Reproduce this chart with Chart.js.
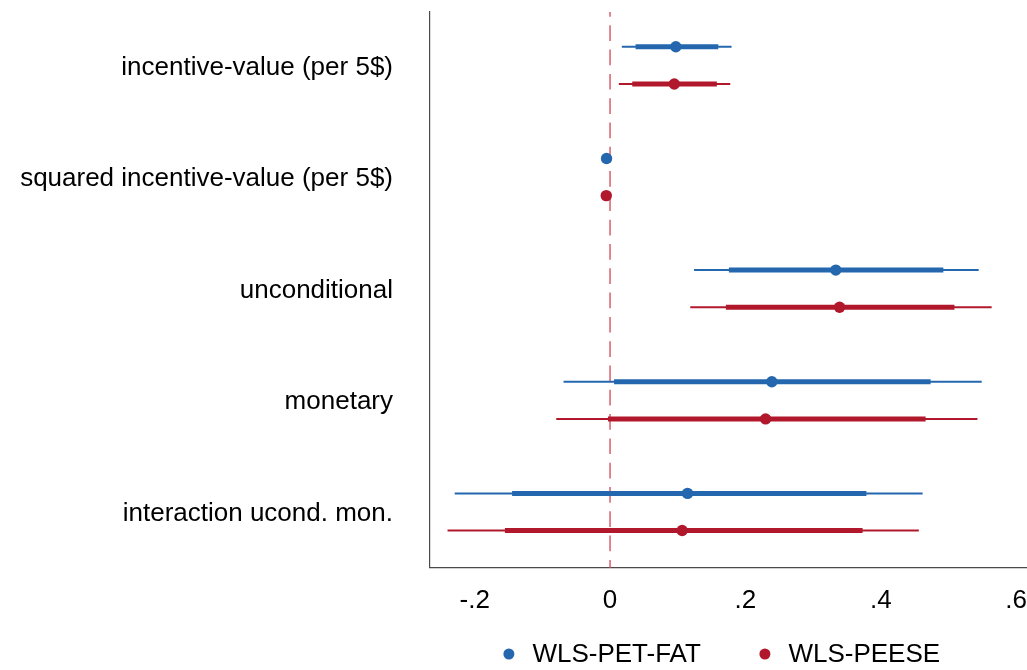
<!DOCTYPE html>
<html>
<head>
<meta charset="utf-8">
<script src="https://cdn.jsdelivr.net/npm/chart.js@4.4.1/dist/chart.umd.min.js"></script>
<style>
  html, body { margin: 0; padding: 0; background: #ffffff; }
  #wrap { width: 1027px; height: 670px; }
</style>
</head>
<body>
<div id="wrap"><canvas id="c" width="1027" height="670"></canvas></div>
<script>
// ---------------- data ----------------
const CATEGORIES = [
  'incentive-value (per 5$)',
  'squared incentive-value (per 5$)',
  'unconditional',
  'monetary',
  'interaction ucond. mon.'
];
const SERIES_NAMES = ['WLS-PET-FAT', 'WLS-PEESE'];

const PET_EST      = [0.0972, -0.0052, 0.3335, 0.2390, 0.1145];
const PET_CI95_LO  = [0.0174, -0.0062, 0.1241, -0.0687, -0.2295];
const PET_CI95_HI  = [0.1795, -0.0042, 0.5446, 0.5491, 0.4618];
const PET_CI90_LO  = [0.0377, -0.0058, 0.1756, 0.0059, -0.1447];
const PET_CI90_HI  = [0.1599, -0.0046, 0.4924, 0.4736, 0.3787];

const PEESE_EST     = [0.0949, -0.0056, 0.3391, 0.2298, 0.1065];
const PEESE_CI95_LO = [0.0130, -0.0066, 0.1185, -0.0795, -0.2401];
const PEESE_CI95_HI = [0.1776, -0.0046, 0.5638, 0.5428, 0.4562];
const PEESE_CI90_LO = [0.0328, -0.0062, 0.1711, -0.0031, -0.1553];
const PEESE_CI90_HI = [0.1578, -0.0050, 0.5088, 0.4662, 0.3731];

const X_TICKS       = [-0.2, 0, 0.2, 0.4, 0.6];
const X_TICK_LABELS = ['-.2', '0', '.2', '.4', '.6'];
const REF_VALUE = 0;

// ---------------- styling ----------------
const BLUE = '#2467af';
const RED  = '#b1182c';
const FONT = '"Liberation Sans", Arial, Helvetica, sans-serif';
const FONT_SIZE = 26;
const AXIS_COLOR = '#4a4a4a';
const SERIES_OFFSET = 0.1665;   // vertical separation of the two series within a category

function rows(lo, hi, off) {
  return CATEGORIES.map((c, i) => ({ y: i + off, x: [lo[i], hi[i]] }));
}
function pts(est, off) {
  return CATEGORIES.map((c, i) => ({ y: i + off, x: est[i] }));
}

const datasets = [
  { type: 'scatter', label: SERIES_NAMES[0], data: pts(PET_EST, -SERIES_OFFSET),
    backgroundColor: BLUE, borderColor: BLUE, pointRadius: 5.7, pointBorderWidth: 0, order: 0, isLegend: true },
  { type: 'scatter', label: SERIES_NAMES[1], data: pts(PEESE_EST, SERIES_OFFSET),
    backgroundColor: RED, borderColor: RED, pointRadius: 5.7, pointBorderWidth: 0, order: 0, isLegend: true },
  { type: 'bar', indexAxis: 'y', label: 'pet90', data: rows(PET_CI90_LO, PET_CI90_HI, -SERIES_OFFSET),
    backgroundColor: BLUE, barThickness: 5, grouped: false, borderWidth: 0, inflateAmount: 0, order: 1 },
  { type: 'bar', indexAxis: 'y', label: 'peese90', data: rows(PEESE_CI90_LO, PEESE_CI90_HI, SERIES_OFFSET),
    backgroundColor: RED, barThickness: 5, grouped: false, borderWidth: 0, inflateAmount: 0, order: 1 },
  { type: 'bar', indexAxis: 'y', label: 'pet95', data: rows(PET_CI95_LO, PET_CI95_HI, -SERIES_OFFSET),
    backgroundColor: BLUE, barThickness: 2, grouped: false, borderWidth: 0, inflateAmount: 0, order: 2 },
  { type: 'bar', indexAxis: 'y', label: 'peese95', data: rows(PEESE_CI95_LO, PEESE_CI95_HI, SERIES_OFFSET),
    backgroundColor: RED, barThickness: 2, grouped: false, borderWidth: 0, inflateAmount: 0, order: 2 }
];

// dashed reference line at REF_VALUE
const refLine = {
  id: 'refLine',
  beforeDatasetsDraw(chart) {
    const { ctx, chartArea } = chart;
    const x = chart.scales.x.getPixelForValue(REF_VALUE);
    ctx.save();
    ctx.strokeStyle = '#d6606f';
    ctx.lineWidth = 1.5;
    ctx.setLineDash([15.7, 8.6]);
    ctx.lineDashOffset = 11;
    ctx.beginPath();
    ctx.moveTo(x, chartArea.top);
    ctx.lineTo(x, chartArea.bottom);
    ctx.stroke();
    ctx.restore();
  }
};

// legend drawn below the axis
const bottomLegend = {
  id: 'bottomLegend',
  afterDraw(chart) {
    const { ctx, chartArea } = chart;
    const items = chart.data.datasets.filter(d => d.isLegend);
    ctx.save();
    ctx.font = FONT_SIZE + 'px ' + FONT;
    const dotToText = 23.5, itemGap = 64;
    const widths = items.map(d => ctx.measureText(d.label).width);
    let total = 0;
    widths.forEach((w, i) => { total += dotToText + w + (i < widths.length - 1 ? itemGap : 0); });
    let x = (chartArea.left + chartArea.right) / 2 - 4 - total / 2;
    const y = chart.height - 15;
    items.forEach((d, i) => {
      ctx.fillStyle = d.backgroundColor;
      ctx.beginPath();
      ctx.arc(x, y - 1, 5.5, 0, Math.PI * 2);
      ctx.fill();
      ctx.fillStyle = '#000';
      ctx.textAlign = 'left';
      ctx.textBaseline = 'middle';
      ctx.fillText(d.label, x + dotToText, y);
      x += dotToText + widths[i] + itemGap;
    });
    ctx.restore();
  }
};

new Chart(document.getElementById('c'), {
  type: 'scatter',
  data: { datasets },
  plugins: [refLine, bottomLegend],
  options: {
    responsive: false,
    animation: false,
    devicePixelRatio: 1,
    layout: { autoPadding: false, padding: { top: 12, right: 0, bottom: 54, left: 0 } },
    plugins: { legend: { display: false }, tooltip: { enabled: false } },
    scales: {
      x: {
        type: 'linear',
        offset: false,
        min: -0.266,
        max: 0.616,
        afterBuildTicks: s => { s.ticks = X_TICKS.map(v => ({ value: v })); },
        afterFit: s => { s.height = 48.2; s.paddingLeft = 0; s.paddingRight = 0; s.paddingTop = 0; s.paddingBottom = 0; },
        ticks: {
          callback: (v, i) => X_TICK_LABELS[i],
          padding: 17,
          color: '#000',
          font: { family: FONT, size: FONT_SIZE },
          maxRotation: 0,
          autoSkip: false
        },
        grid: { display: false, drawTicks: false, offset: false },
        border: { display: true, color: AXIS_COLOR, width: 1.2 }
      },
      y: {
        type: 'linear',
        offset: false,
        reverse: true,
        min: -0.478,
        max: 4.5,
        afterBuildTicks: s => { s.ticks = CATEGORIES.map((c, i) => ({ value: i })); },
        afterFit: s => { s.width = 430; s.paddingLeft = 0; s.paddingRight = 0; s.paddingTop = 0; s.paddingBottom = 0; },
        ticks: {
          callback: (v, i) => CATEGORIES[i],
          padding: 37,
          labelOffset: 2,
          color: '#000',
          font: { family: FONT, size: FONT_SIZE },
          autoSkip: false
        },
        grid: { display: false, drawTicks: false, offset: false },
        border: { display: true, color: AXIS_COLOR, width: 1.2 }
      }
    }
  }
});
</script>
</body>
</html>
